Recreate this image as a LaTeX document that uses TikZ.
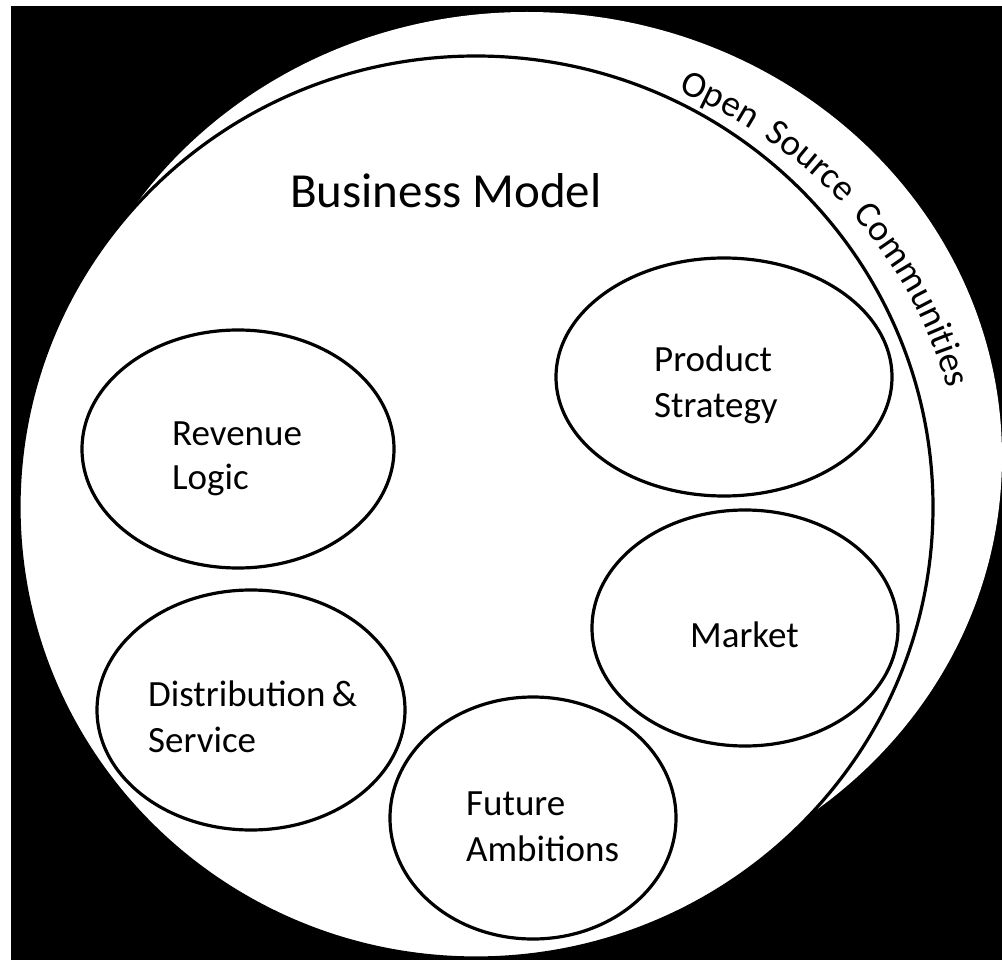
\documentclass[tikz,border=0pt]{standalone}
\usepackage{fontspec}
\setmainfont{Carlito}
\usetikzlibrary{shapes.geometric,decorations.text}
\begin{document}
\begin{tikzpicture}[x=1pt,y=-1pt,
  ring/.style={ellipse, fill=white, inner sep=0pt, outer sep=0pt},
  bubble/.style={ellipse, draw=black, fill=white, line width=3.2pt, inner sep=0pt, outer sep=0pt},
  lbl/.style={anchor=base west, inner sep=0pt, text=black, font=\fontsize{37}{46}\selectfont},
  title/.style={anchor=base west, inner sep=0pt, text=black, font=\fontsize{49}{58}\selectfont},
]
\useasboundingbox (0,0) rectangle (1002,960);
\fill[white] (0,0) rectangle (1002,960);
\fill[black] (11,6) rectangle (1002,960);

% outer community ring and the business model inside it
\node[ring, minimum width=950pt, minimum height=890pt] (osc) at (527,457) {};
\node[bubble, minimum width=914pt, minimum height=902pt] (bm) at (476,507) {};

% curved ring label
\path[decorate, decoration={text along path, text align={fit to path stretching spaces},
  text={|\fontsize{37}{42}\selectfont|Open Source Communities}}]
  (490,500) ++(-66.5:472 and 445) arc[start angle=-66.5, end angle=-14.5, x radius=472, y radius=445];

\node[title] (bmt) at (290,208) {Business Model};

% the five building blocks
\node[bubble, minimum width=312pt, minimum height=238pt] (rev) at (238,449) {};
\node[bubble, minimum width=336pt, minimum height=238pt] (prod) at (724,377) {};
\node[bubble, minimum width=306pt, minimum height=236pt] (mkt) at (745,628) {};
\node[bubble, minimum width=308pt, minimum height=240pt] (dist) at (251,710) {};
\node[bubble, minimum width=286pt, minimum height=242pt] (fut) at (533,818) {};

\node[lbl] (rev1) at (172,445) {Revenue};
\node[lbl] (rev2) at (172,489) {Logic};
\node[lbl] (prod1) at (654,371) {Product};
\node[lbl] (prod2) at (654,417) {Strategy};
\node[lbl] (mkt1) at (690,647) {Market};
\node[lbl] (dist1) at (148,706) {Distribution\,\&};
\node[lbl] (dist2) at (148,752) {Service};
\node[lbl] (fut1) at (466,815) {Future};
\node[lbl] (fut2) at (466,861) {Ambitions};
\end{tikzpicture}
\end{document}
